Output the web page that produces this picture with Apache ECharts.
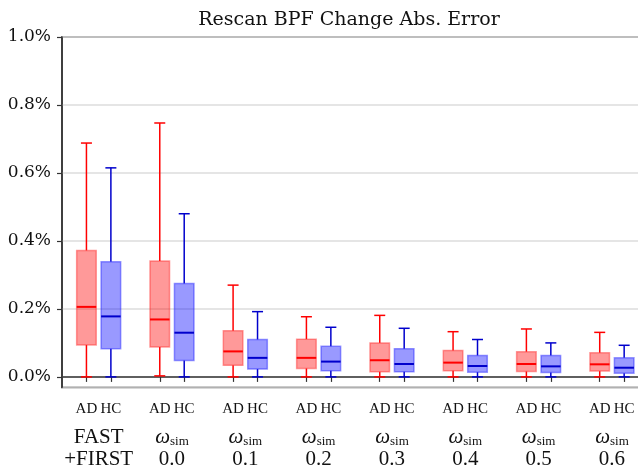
<!DOCTYPE html>
<html><head><meta charset="utf-8">
<script src="https://cdn.jsdelivr.net/npm/echarts@6/dist/echarts.min.js"></script>
<style>html,body{margin:0;padding:0;background:#fff}#c{width:638px;height:467px}</style>
</head><body><div id="c"></div>
<script>
// ---- data (values in percent) ----
const boxLabels = ['AD', 'HC'];
const groupTop = ['FAST', 'ωsim', 'ωsim', 'ωsim', 'ωsim', 'ωsim', 'ωsim', 'ωsim'];
const groupBottom = ['+FIRST', '0.0', '0.1', '0.2', '0.3', '0.4', '0.5', '0.6'];
const yTickValues = [0, 0.2, 0.4, 0.6, 0.8, 1.0];

const adMin = [0.000, 0.003, 0.000, 0.000, 0.000, 0.000, 0.000, 0.000];
const adQ1  = [0.094, 0.088, 0.034, 0.025, 0.015, 0.018, 0.016, 0.017];
const adMed = [0.206, 0.169, 0.075, 0.056, 0.049, 0.042, 0.038, 0.037];
const adQ3  = [0.372, 0.341, 0.136, 0.111, 0.100, 0.078, 0.074, 0.071];
const adMax = [0.688, 0.747, 0.270, 0.177, 0.181, 0.133, 0.141, 0.131];

const hcMin = [0.000, 0.000, 0.000, 0.000, 0.000, 0.000, 0.000, 0.000];
const hcQ1  = [0.083, 0.048, 0.023, 0.018, 0.015, 0.014, 0.013, 0.011];
const hcMed = [0.178, 0.130, 0.056, 0.045, 0.038, 0.032, 0.031, 0.027];
const hcQ3  = [0.339, 0.275, 0.110, 0.090, 0.083, 0.063, 0.063, 0.056];
const hcMax = [0.615, 0.480, 0.192, 0.146, 0.143, 0.110, 0.100, 0.093];

// ---- layout of the category slots (half units) ----
const nGroups = groupTop.length;
const nSlots = 6 * nGroups + 1;
const adIdx = i => 2 + 6 * i, hcIdx = i => 4 + 6 * i, ctrIdx = i => 3 + 6 * i;
const boxCats = new Array(nSlots).fill('');
const groupCats = new Array(nSlots).fill('');
for (let i = 0; i < nGroups; i++) {
  boxCats[adIdx(i)] = boxLabels[0];
  boxCats[hcIdx(i)] = boxLabels[1];
  groupCats[ctrIdx(i)] = groupTop[i] + '|' + groupBottom[i];
}
const adData = adMin.map((v, i) => [adIdx(i), adMin[i], adQ1[i], adMed[i], adQ3[i], adMax[i]]);
const hcData = hcMin.map((v, i) => [hcIdx(i), hcMin[i], hcQ1[i], hcMed[i], hcQ3[i], hcMax[i]]);

function boxRenderer(lineColor, fillColor, edgeColor) {
  return function (params, api) {
    const x = api.value(0);
    const pMin = api.coord([x, api.value(1)]);
    const pQ1 = api.coord([x, api.value(2)]);
    const pMed = api.coord([x, api.value(3)]);
    const pQ3 = api.coord([x, api.value(4)]);
    const pMax = api.coord([x, api.value(5)]);
    const bw = api.size([1, 0])[0];
    const half = bw * 0.8, cap = bw * 0.45;
    const cx = pMed[0];
    const ls = { stroke: lineColor, lineWidth: 1.5 };
    return {
      type: 'group',
      children: [
        { type: 'line', shape: { x1: cx, y1: pMin[1], x2: cx, y2: pQ1[1] }, style: ls },
        { type: 'line', shape: { x1: cx, y1: pQ3[1], x2: cx, y2: pMax[1] }, style: ls },
        { type: 'line', shape: { x1: cx - cap, y1: pMin[1], x2: cx + cap, y2: pMin[1] }, style: ls },
        { type: 'line', shape: { x1: cx - cap, y1: pMax[1], x2: cx + cap, y2: pMax[1] }, style: ls },
        { type: 'rect', shape: { x: cx - half, y: pQ3[1], width: 2 * half, height: pQ1[1] - pQ3[1] },
          style: { fill: fillColor, stroke: edgeColor, lineWidth: 1.5 } },
        { type: 'line', shape: { x1: cx - half, y1: pMed[1], x2: cx + half, y2: pMed[1] },
          style: { stroke: lineColor, lineWidth: 2 } }
      ]
    };
  };
}

const chart = echarts.init(document.getElementById('c'), null, { renderer: 'canvas' });
chart.setOption({
  animation: false,
  backgroundColor: '#fff',
  title: {
    text: 'Rescan BPF Change Abs. Error',
    left: 344, top: 6, textAlign: 'center',
    textStyle: { fontFamily: 'DejaVu Serif', fontSize: 19, fontWeight: 'normal', color: '#111' }
  },
  grid: {
    left: 62, top: 37, height: 350.5, width: 586.6,
    outerBoundsMode: 'none', containLabel: false,
    show: true, borderColor: '#333', borderWidth: 1.5, backgroundColor: 'transparent'
  },
  xAxis: [{
    type: 'category', data: boxCats, boundaryGap: false, position: 'bottom',
    axisLine: { show: true, lineStyle: { color: '#333', width: 1.5 } },
    axisTick: { show: true, inside: false, length: 5, interval: (i, v) => v !== '',
      lineStyle: { color: '#333', width: 1.2 } },
    axisLabel: { interval: (i, v) => v !== '', margin: 14, color: '#111',
      fontFamily: 'Liberation Serif', fontSize: 15 },
    splitLine: { show: false }
  }, {
    type: 'category', data: groupCats, boundaryGap: false, position: 'bottom',
    axisLine: { show: false }, axisTick: { show: false },
    axisLabel: {
      interval: (i, v) => v !== '', margin: 39, color: '#111',
      fontFamily: 'Liberation Serif', fontSize: 21, lineHeight: 22,
      formatter: function (v) {
        const parts = v.split('|');
        if (parts[0] === 'ωsim') return '{w|ω}{s|sim}\n{n|' + parts[1] + '}';
        return '{n|' + parts[0] + '}\n{n|' + parts[1] + '}';
      },
      rich: {
        n: { fontFamily: 'Liberation Serif', fontSize: 21, lineHeight: 22, color: '#111' },
        w: { fontFamily: 'Liberation Serif', fontStyle: 'italic', fontSize: 21, lineHeight: 22, color: '#111' },
        s: { fontFamily: 'Liberation Serif', fontSize: 13, lineHeight: 22, color: '#111', padding: [9, 0, 0, 0] }
      }
    },
    splitLine: { show: false }
  }],
  yAxis: {
    type: 'value', min: -0.0312, max: 1.0, splitNumber: 5,
    axisLine: { show: true, lineStyle: { color: '#333', width: 1.5 } },
    axisTick: { show: true, inside: false, length: 5, lineStyle: { color: '#333', width: 1.2 } },
    axisLabel: {
      showMinLabel: false, margin: 11, color: '#111', fontFamily: 'DejaVu Serif', fontSize: 17,
      formatter: v => (yTickValues.some(t => Math.abs(t - v) < 1e-9) ? v.toFixed(1) + '%' : '')
    },
    splitLine: { show: true, lineStyle: { color: '#dcdcdc', width: 1.5 } }
  },
  series: [{
    type: 'custom', name: 'AD', xAxisIndex: 0, data: adData,
    encode: { x: 0, y: [1, 2, 3, 4, 5] },
    renderItem: boxRenderer('#ff0000', 'rgba(255,0,0,0.4)', 'rgba(255,40,40,0.45)')
  }, {
    type: 'custom', name: 'HC', xAxisIndex: 0, data: hcData,
    encode: { x: 0, y: [1, 2, 3, 4, 5] },
    renderItem: boxRenderer('#0000cc', 'rgba(0,0,255,0.4)', 'rgba(30,30,255,0.45)')
  }]
});
</script></body></html>
